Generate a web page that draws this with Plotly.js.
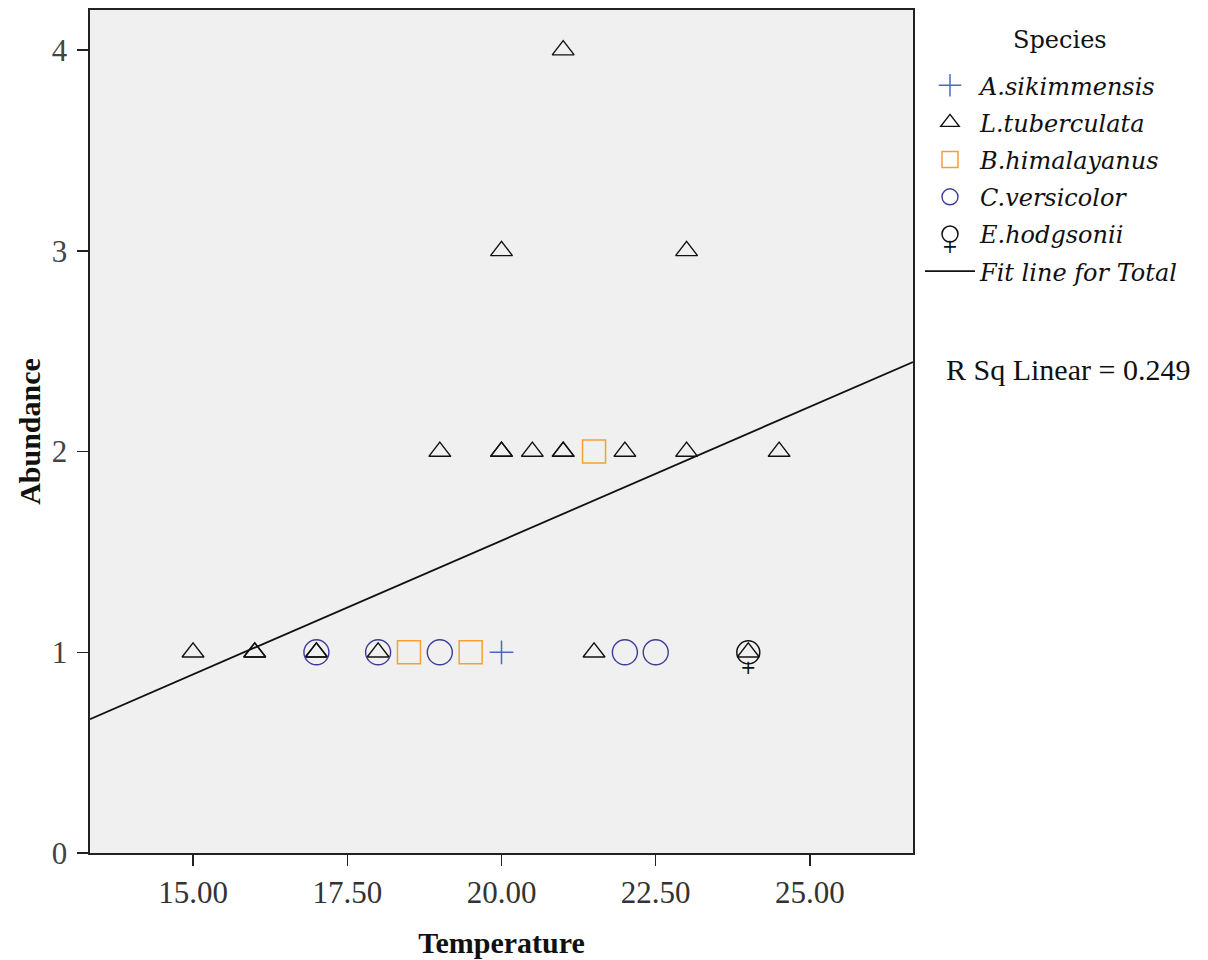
<!DOCTYPE html>
<html>
<head>
<meta charset="utf-8">
<script src="https://cdn.plot.ly/plotly-3.0.1.min.js"></script>
<style>html,body{margin:0;padding:0;background:#fff;}#chart{width:1208px;height:960px;}</style>
</head>
<body>
<div id="chart"></div>
<script>
// ---- Data ----
const sikimmensis_x = [20];
const sikimmensis_y = [1];

const tuberculata_x = [15, 16, 16, 17, 17, 18, 21.5, 24, 19, 20, 20, 20.5, 21, 21, 22, 23, 24.5, 20, 23, 21];
const tuberculata_y = [1, 1, 1, 1, 1, 1, 1, 1, 2, 2, 2, 2, 2, 2, 2, 2, 2, 3, 3, 4];

const himalayanus_x = [18.5, 19.5, 21.5];
const himalayanus_y = [1, 1, 2];

const versicolor_x = [17, 18, 19, 22, 22.5];
const versicolor_y = [1, 1, 1, 1, 1];

const hodgsonii_x = [24];
const hodgsonii_y = [1];

// Fit line for Total (endpoints read at the plot edges)
const fit_x = [13.33, 26.67];
const fit_y = [0.667, 2.446];
const r_sq = 0.249;

const x_ticks = [15, 17.5, 20, 22.5, 25];
const y_ticks = [0, 1, 2, 3, 4];

const serif = 'Liberation Serif, Times New Roman, serif';
const legendFont = 'DejaVu Serif, serif';

const traces = [
  {
    x: sikimmensis_x, y: sikimmensis_y, name: 'A.sikimmensis', type: 'scatter', mode: 'markers', legendgroup: 'a',
    marker: {symbol: 'cross-thin-open', size: 17, color: '#4a66c6', line: {color: '#4a66c6', width: 1.5}}
  },
  {
    x: tuberculata_x, y: tuberculata_y, name: 'L.tuberculata', type: 'scatter', mode: 'markers', legendgroup: 'b',
    marker: {symbol: 'triangle-up-open', size: 19, color: '#111', line: {color: '#111', width: 1.4}}
  },
  {
    x: himalayanus_x, y: himalayanus_y, name: 'B.himalayanus', type: 'scatter', mode: 'markers', legendgroup: 'c',
    marker: {symbol: 'square-open', size: 23, color: '#f5a033', line: {color: '#f5a033', width: 1.5}}
  },
  {
    x: versicolor_x, y: versicolor_y, name: 'C.versicolor', type: 'scatter', mode: 'markers', legendgroup: 'd',
    marker: {symbol: 'circle-open', size: 25, color: '#3c3c98', line: {color: '#3c3c98', width: 1.4}}
  },
  {
    x: hodgsonii_x, y: hodgsonii_y, name: 'E.hodgsonii', type: 'scatter', mode: 'markers', legendgroup: 'e',
    marker: {symbol: 'circle-open', size: 23, color: '#111', line: {color: '#111', width: 1.5}}
  },
  {
    x: hodgsonii_x, y: hodgsonii_y, name: 'E.hodgsonii', type: 'scatter', mode: 'markers+text', legendgroup: 'e',
    showlegend: false, hoverinfo: 'skip',
    marker: {symbol: 'circle', size: 10, opacity: 0},
    text: hodgsonii_x.map(() => '+'), textposition: 'bottom center',
    textfont: {family: 'DejaVu Sans, sans-serif', size: 19, color: '#111'}
  },
  {
    x: fit_x, y: fit_y, name: 'Fit line for Total', type: 'scatter', mode: 'lines', legendgroup: 'f',
    line: {color: '#111', width: 1.8}
  }
];

const layout = {
  width: 1208, height: 960,
  margin: {l: 90, r: 295, t: 10, b: 107, pad: 0},
  paper_bgcolor: '#ffffff',
  plot_bgcolor: '#f0f0f0',
  showlegend: true,
  font: {family: serif, color: '#111'},
  xaxis: {
    range: [13.33, 26.67], tickvals: x_ticks, ticktext: x_ticks.map(v => v.toFixed(2)),
    ticks: 'outside', ticklen: 11, tickwidth: 1.3, tickcolor: '#222',
    showline: true, mirror: true, linecolor: '#222', linewidth: 1.6,
    showgrid: false, zeroline: false,
    ticklabelstandoff: 0,
    tickfont: {family: serif, size: 31, color: '#333'},
    title: {text: 'Temperature', font: {family: serif, size: 30, weight: 'bold', color: '#111'}, standoff: 23}
  },
  yaxis: {
    range: [0, 4.2], tickvals: y_ticks,
    ticks: 'outside', ticklen: 11, tickwidth: 1.3, tickcolor: '#222',
    showline: true, mirror: true, linecolor: '#222', linewidth: 1.6,
    showgrid: false, zeroline: false,
    ticklabelstandoff: 4,
    tickfont: {family: serif, size: 31, color: '#444'},
    title: {text: 'Abundance', font: {family: serif, size: 30, weight: 'bold', color: '#111'}, standoff: 2}
  },
  legend: {
    x: 1.0085, xanchor: 'left', y: 0.937, yanchor: 'top',
    bgcolor: 'rgba(0,0,0,0)', borderwidth: 0,
    itemwidth: 50,
    font: {family: legendFont, size: 24, style: 'italic', color: '#111'},
    tracegroupgap: 3
  },
  annotations: [
    {
      xref: 'paper', yref: 'paper', x: 1.1786, y: 0.9644, xanchor: 'center', yanchor: 'middle',
      text: 'Species', showarrow: false,
      font: {family: legendFont, size: 24, color: '#111'}
    },
    {
      xref: 'paper', yref: 'paper', x: 1.188, y: 0.573, xanchor: 'center', yanchor: 'middle',
      text: 'R Sq Linear = ' + r_sq.toFixed(3), showarrow: false,
      font: {family: serif, size: 30, color: '#111'}
    },
    {
      xref: 'paper', yref: 'paper', x: 1.045, y: 0.72, xanchor: 'center', yanchor: 'middle',
      text: '+', showarrow: false,
      font: {family: 'DejaVu Sans, sans-serif', size: 19, color: '#111'}
    }
  ]
};

Plotly.newPlot('chart', traces, layout, {displayModeBar: false, staticPlot: true});
</script>
</body>
</html>
